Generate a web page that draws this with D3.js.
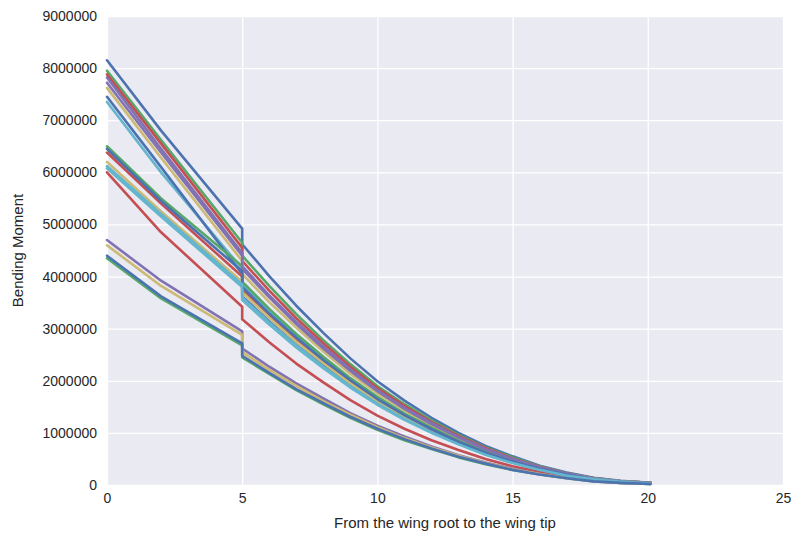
<!DOCTYPE html>
<html><head><meta charset="utf-8">
<script src="https://cdn.jsdelivr.net/npm/d3@7"></script>
<style>body{margin:0;background:#fff;} text{font-family:"Liberation Sans",Arial,sans-serif;}</style>
</head><body>
<svg id="c" width="791" height="536"></svg>
<script>
// x positions along the span (duplicate 5 = discontinuity)
const xPos = [0, 2, 5, 5, 6, 7, 8, 9, 10, 11, 12, 13, 14, 15, 16, 17, 18, 19, 20.1];
// bending moment values in millions
const s0  = [8.15, 6.80, 4.92, 4.62, 4.01, 3.44, 2.92, 2.43, 1.99, 1.62, 1.29, 1.00, 0.75, 0.55, 0.37, 0.24, 0.14, 0.08, 0.04];
const s1  = [7.95, 6.62, 4.65, 4.40, 3.82, 3.28, 2.78, 2.32, 1.90, 1.55, 1.24, 0.96, 0.72, 0.53, 0.36, 0.23, 0.13, 0.07, 0.04];
const s2  = [7.88, 6.55, 4.55, 4.30, 3.73, 3.20, 2.72, 2.27, 1.86, 1.52, 1.21, 0.94, 0.71, 0.51, 0.35, 0.22, 0.13, 0.07, 0.04];
const s3  = [7.82, 6.45, 4.45, 4.20, 3.64, 3.13, 2.66, 2.22, 1.82, 1.48, 1.19, 0.92, 0.69, 0.50, 0.34, 0.22, 0.13, 0.07, 0.04];
const s4  = [7.62, 6.28, 4.30, 4.05, 3.51, 3.02, 2.56, 2.13, 1.76, 1.43, 1.14, 0.88, 0.66, 0.48, 0.33, 0.21, 0.12, 0.07, 0.04];
const s5  = [7.35, 6.00, 4.15, 3.85, 3.34, 2.87, 2.43, 2.03, 1.67, 1.36, 1.09, 0.84, 0.63, 0.46, 0.31, 0.20, 0.12, 0.07, 0.03];
const s6  = [7.45, 6.10, 4.05, 3.62, 3.14, 2.69, 2.29, 1.91, 1.57, 1.28, 1.02, 0.79, 0.59, 0.43, 0.29, 0.19, 0.11, 0.06, 0.03];
const s7  = [6.50, 5.50, 4.20, 3.90, 3.38, 2.90, 2.46, 2.05, 1.69, 1.37, 1.10, 0.85, 0.64, 0.47, 0.32, 0.20, 0.12, 0.07, 0.04];
const s8  = [6.38, 5.40, 4.00, 3.75, 3.25, 2.79, 2.37, 1.98, 1.63, 1.32, 1.06, 0.82, 0.61, 0.45, 0.31, 0.20, 0.11, 0.06, 0.03];
const s9  = [7.72, 6.38, 4.40, 4.15, 3.60, 3.09, 2.62, 2.19, 1.80, 1.46, 1.17, 0.91, 0.68, 0.50, 0.34, 0.22, 0.12, 0.07, 0.04];
const s10 = [6.20, 5.25, 3.90, 3.70, 3.21, 2.75, 2.34, 1.95, 1.60, 1.30, 1.04, 0.81, 0.61, 0.44, 0.30, 0.19, 0.11, 0.06, 0.03];
const s11 = [6.08, 5.15, 3.80, 3.60, 3.12, 2.68, 2.27, 1.90, 1.56, 1.27, 1.01, 0.79, 0.59, 0.43, 0.29, 0.19, 0.11, 0.06, 0.03];
const s12 = [6.45, 5.45, 4.10, 3.80, 3.29, 2.83, 2.40, 2.01, 1.65, 1.34, 1.07, 0.83, 0.62, 0.45, 0.31, 0.20, 0.11, 0.06, 0.03];
const s13 = [4.35, 3.58, 2.68, 2.45, 2.13, 1.82, 1.55, 1.29, 1.06, 0.86, 0.69, 0.53, 0.40, 0.29, 0.20, 0.13, 0.07, 0.04, 0.02];
const s14 = [6.00, 4.85, 3.42, 3.18, 2.74, 2.33, 1.97, 1.63, 1.33, 1.08, 0.86, 0.67, 0.50, 0.36, 0.25, 0.16, 0.09, 0.05, 0.03];
const s15 = [4.70, 3.92, 2.95, 2.62, 2.27, 1.95, 1.66, 1.38, 1.14, 0.93, 0.74, 0.57, 0.43, 0.31, 0.21, 0.14, 0.08, 0.04, 0.02];
const s16 = [4.60, 3.82, 2.88, 2.55, 2.21, 1.90, 1.61, 1.35, 1.11, 0.90, 0.72, 0.56, 0.42, 0.30, 0.21, 0.13, 0.08, 0.04, 0.02];
const s17 = [6.12, 5.20, 3.85, 3.55, 3.08, 2.64, 2.24, 1.87, 1.54, 1.25, 1.00, 0.78, 0.58, 0.42, 0.29, 0.18, 0.11, 0.06, 0.03];
const s18 = [4.40, 3.62, 2.72, 2.48, 2.15, 1.84, 1.57, 1.31, 1.08, 0.88, 0.70, 0.54, 0.41, 0.29, 0.20, 0.13, 0.07, 0.04, 0.02];
const seriesList = [s0,s1,s2,s3,s4,s5,s6,s7,s8,s9,s10,s11,s12,s13,s14,s15,s16,s17,s18];

const xTicks = [0, 5, 10, 15, 20, 25];
const yTicks = [0, 1000000, 2000000, 3000000, 4000000, 5000000, 6000000, 7000000, 8000000, 9000000];
const xLabel = "From the wing root to the wing tip";
const yLabel = "Bending Moment";
const palette = ["#4C72B0", "#55A868", "#C44E52", "#8172B2", "#CCB974", "#64B5CD"];

const svg = d3.select("#c");
const L = 107, R = 783, T = 16, B = 485;
const x = d3.scaleLinear().domain([0, 25]).range([L, R]);
const y = d3.scaleLinear().domain([0, 9000000]).range([B, T]);

svg.append("rect").attr("x", L).attr("y", T).attr("width", R - L).attr("height", B - T).attr("fill", "#EAEAF2");

const gx = svg.append("g").attr("transform", `translate(0,${B})`)
  .call(d3.axisBottom(x).tickValues(xTicks).tickSize(-(B - T)).tickPadding(8).tickFormat(d3.format("d")));
const gy = svg.append("g").attr("transform", `translate(${L},0)`)
  .call(d3.axisLeft(y).tickValues(yTicks).tickSize(-(R - L)).tickPadding(10).tickFormat(d3.format("d")));
[gx, gy].forEach(g => {
  g.select(".domain").remove();
  g.selectAll(".tick line").attr("stroke", "#ffffff").attr("stroke-width", 1.3);
  g.selectAll(".tick text").attr("fill", "#262626").style("font-size", "14px").style("font-family", "'Liberation Sans', Arial, sans-serif");
});

const line = d3.line().x((d, i) => x(xPos[i])).y(d => y(d * 1e6));
const plot = svg.append("g");
seriesList.forEach((s, i) => {
  plot.append("path").datum(s).attr("d", line)
    .attr("fill", "none").attr("stroke", palette[i % palette.length])
    .attr("stroke-width", 2.6).attr("stroke-linejoin", "round").attr("stroke-linecap", "round");
});

svg.append("text").attr("x", (L + R) / 2).attr("y", 528).attr("text-anchor", "middle")
  .attr("fill", "#262626").style("font-size", "15px").text(xLabel);
svg.append("text").attr("transform", `translate(23,${(T + B) / 2}) rotate(-90)`).attr("text-anchor", "middle")
  .attr("fill", "#262626").style("font-size", "15px").text(yLabel);
</script>
</body></html>
